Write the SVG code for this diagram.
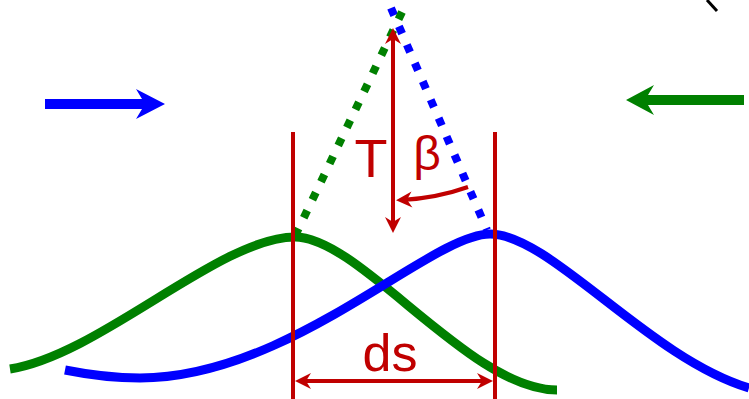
<svg xmlns="http://www.w3.org/2000/svg" width="749" height="399" viewBox="0 0 749 399">
<style>
.curve{fill:none;stroke-width:9}
.dot{fill:none;stroke-width:8;stroke-dasharray:8 12}
.red{fill:none;stroke:#c00000;stroke-width:4}
.lbl{font-family:"Liberation Sans",Arial,sans-serif;fill:#c00000}
</style>
<defs>
<marker id="ah" markerUnits="userSpaceOnUse" viewBox="-12 -9 20 18" refX="0" refY="0" markerWidth="20" markerHeight="18" orient="auto-start-reverse">
<path d="M6,0 L-10,-8 L-5,0 L-10,8 Z" fill="#c00000"/>
</marker>
</defs>
<rect width="749" height="399" fill="#fff"/>
<g id="connectors">
<path class="dot" stroke="#0000ff" d="M391,8 L487,230"/>
<path class="dot" stroke="#008000" d="M402,12 L296,234"/>
<path class="curve" stroke="#008000" d="M10,369 C100,355 220,237 295,237 C360,237 470,390 557,390"/>
<path class="curve" stroke="#0000ff" d="M65,370 C90,375 115,378 140,378 C290,378 430,234 490,234 C550,234 649,358 749,388"/>
<path fill="#0000ff" d="M45,99 H142 L136,89 L165,104 L136,119 L142,109 H45 Z"/>
<path fill="#008000" d="M744,95 H648 L654,85 L626,100 L654,115 L648,105 H744 Z"/>
<path class="red" d="M293,132 V399"/>
<path class="red" d="M495,132 V399"/>
<path class="red" d="M301,381 H487" marker-start="url(#ah)" marker-end="url(#ah)"/>
<path class="red" d="M393,34 V227" marker-start="url(#ah)" marker-end="url(#ah)"/>
<path class="red" d="M468,187 Q437,198 402,200" marker-end="url(#ah)"/>
<path fill="none" stroke="#000" stroke-width="3" d="M707,0 L717,11"/>
</g>
<g id="labels">
<text class="lbl" x="371" y="177" font-size="54" text-anchor="middle">T</text>
<text class="lbl" x="427" y="170" font-size="48" text-anchor="middle">β</text>
<text class="lbl" x="390" y="371" font-size="52" text-anchor="middle">ds</text>
</g>
</svg>
